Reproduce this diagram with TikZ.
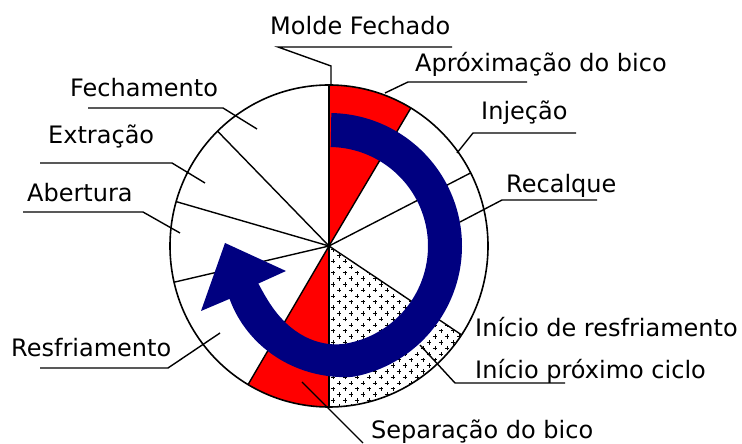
\documentclass[tikz,border=0pt]{standalone}
\usepackage{fontspec}
\setmainfont{DejaVu Sans}
\usetikzlibrary{patterns}
\pgfdeclarepatternformonly{plusses}{\pgfqpoint{-1pt}{-1pt}}{\pgfqpoint{13pt}{12.6pt}}{\pgfqpoint{12pt}{11.6pt}}{%
  \pgfsetlinewidth{0.9pt}%
  \pgfpathmoveto{\pgfqpoint{0.8pt}{3pt}}\pgfpathlineto{\pgfqpoint{5.2pt}{3pt}}%
  \pgfpathmoveto{\pgfqpoint{3pt}{0.8pt}}\pgfpathlineto{\pgfqpoint{3pt}{5.2pt}}%
  \pgfpathmoveto{\pgfqpoint{6.8pt}{8.8pt}}\pgfpathlineto{\pgfqpoint{11.2pt}{8.8pt}}%
  \pgfpathmoveto{\pgfqpoint{9pt}{6.6pt}}\pgfpathlineto{\pgfqpoint{9pt}{11pt}}%
  \pgfusepath{stroke}}
\definecolor{navyblue}{RGB}{0,0,128}
\definecolor{purered}{RGB}{255,0,0}
\begin{document}
\begin{tikzpicture}[x=1pt,y=1pt,
  lbl/.style={anchor=base west, inner sep=0pt, font=\fontsize{24}{28}\selectfont},
  spoke/.style={line width=1.4pt},
  leader/.style={line width=1.4pt},
  rim/.style={line width=1.6pt},
  declare function={
    sv(\t)=max(0,(-80-(\t))/72);
    sm(\t)=3*sv(\t)*sv(\t)-2*sv(\t)*sv(\t)*sv(\t);
    rin(\t)=99-19*sm(\t);
    rout(\t)=133-20.4*sv(\t);
  }]
\useasboundingbox (0,0) rectangle (742,444);
\coordinate (C) at (329,198);
% coloured sectors
\fill[purered] (C) -- ++(59:159 and 161) arc[start angle=59, end angle=90, x radius=159, y radius=161] -- cycle;
\fill[purered] (C) -- ++(239.4:159 and 161) arc[start angle=239.4, end angle=270, x radius=159, y radius=161] -- cycle;
\fill[pattern=plusses] (C) -- ++(-90:159 and 161) arc[start angle=-90, end angle=-33.5, x radius=159, y radius=161] -- cycle;
% rim and spokes
\draw[rim] (C) ellipse[x radius=159, y radius=161];
\foreach \a in {90,59,27,-33.5,-90,239.4,193,164,134.5}
  \draw[spoke] (C) -- ++(\a:159 and 161);
% blue circular arrow
\coordinate (hl) at (201,133);
\coordinate (ht) at (225,201);
\coordinate (hr) at (286,173);
\fill[navyblue] plot[domain=89:-152, samples=120, variable=\t] ({329+rout(\t)*cos(\t)},{198+rout(\t)*sin(\t)})
  -- (hl) -- (ht) -- (hr)
  -- plot[domain=-152:89, samples=120, variable=\t] ({329+rin(\t)*cos(\t)},{198+rin(\t)*sin(\t)}) -- cycle;
% labels
\node[lbl] (mf) at (270,409) {Molde Fechado};
\node[lbl] (ap) at (415,372) {Apróximação do bico};
\node[lbl] (in) at (481,324) {Injeção};
\node[lbl] (re) at (506,251) {Recalque};
\node[lbl] (ir) at (475,107) {Início de resfriamento};
\node[lbl] (ip) at (475,65) {Início próximo ciclo};
\node[lbl] (sb) at (371,5) {Separação do bico};
\node[lbl] (fe) at (70,347) {Fechamento};
\node[lbl] (ex) at (48,300) {Extração};
\node[lbl] (ab) at (27,242) {Abertura};
\node[lbl] (rf) at (11,87) {Resfriamento};
% leaders
\coordinate (mf0) at (331,359);
\draw[leader] (mf0) -- (331,378) -- (278,397) -- (452,397);
\coordinate (ap0) at (385,351);
\draw[leader] (ap0) -- (408,362) -- (527,362);
\coordinate (in0) at (457,291);
\draw[leader] (in0) -- (473,311) -- (576,311);
\coordinate (re0) at (460,222);
\draw[leader] (re0) -- (502,244) -- (597,244);
\coordinate (ip0) at (420,99);
\draw[leader] (ip0) -- (455,61) -- (565,61);
\coordinate (sb0) at (302,62);
\draw[leader] (sb0) -- (363,1);
\coordinate (fe0) at (257,315);
\draw[leader] (fe0) -- (223,336) -- (88,336);
\coordinate (ex0) at (205,261);
\draw[leader] (ex0) -- (172,281) -- (40,281);
\coordinate (ab0) at (180,211);
\draw[leader] (ab0) -- (143,232) -- (23,232);
\coordinate (rf0) at (220,111);
\draw[leader] (rf0) -- (168,76) -- (40,76);
\end{tikzpicture}
\end{document}
